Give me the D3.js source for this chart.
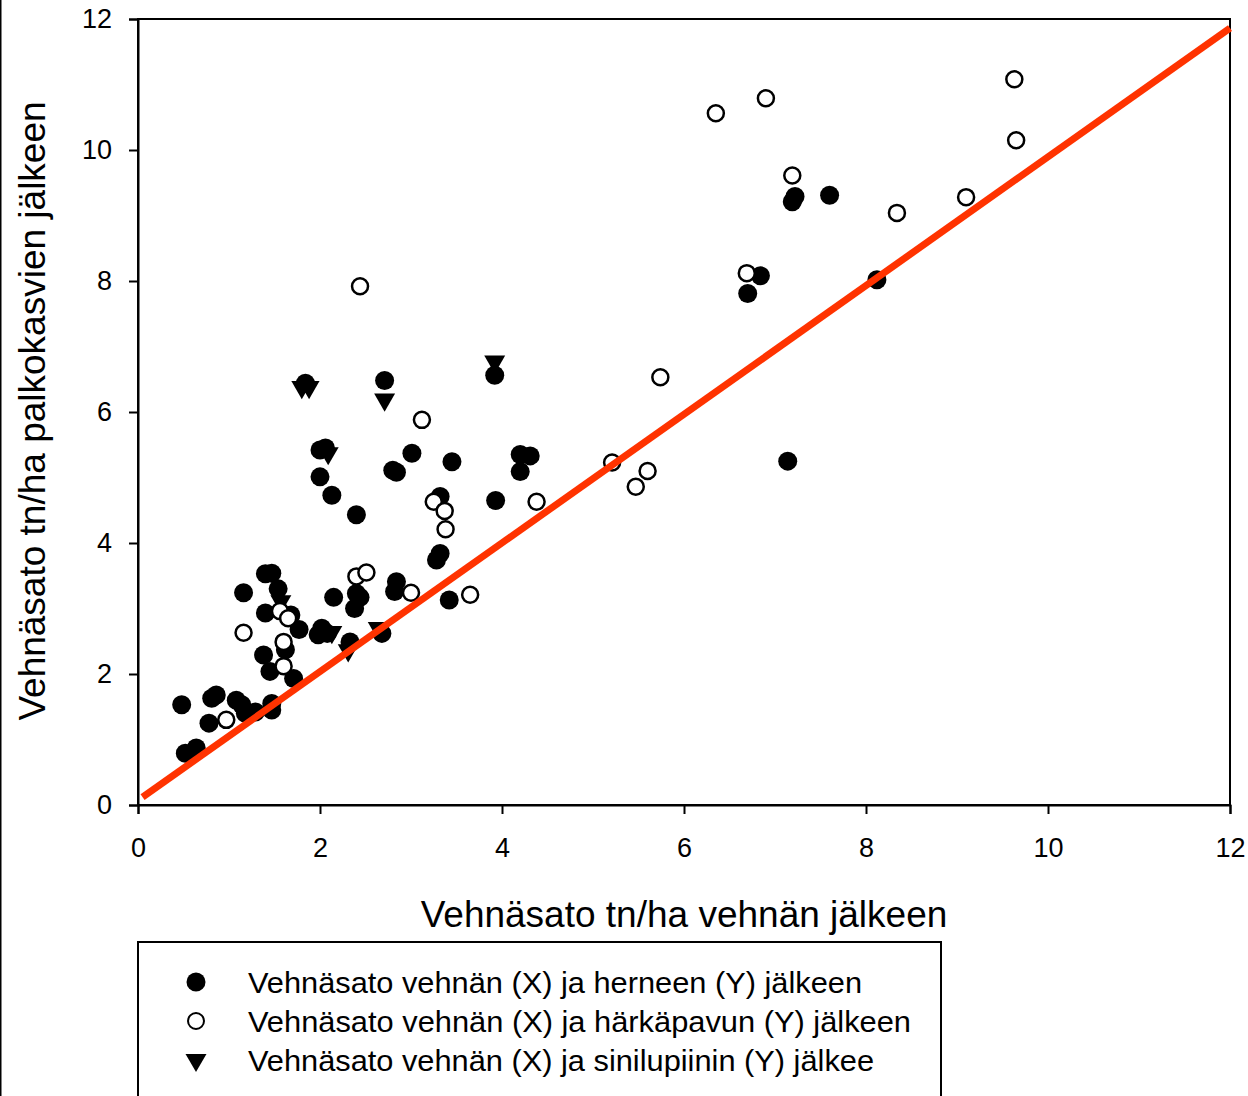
<!DOCTYPE html>
<html>
<head>
<meta charset="utf-8">
<script src="https://cdn.jsdelivr.net/npm/d3@7"></script>
<style>
  body { margin: 0; background: #fff; }
  svg { display: block; }
  text { font-family: "Liberation Sans", Arial, sans-serif; fill: #000; }
</style>
</head>
<body>
<div id="chart"></div>
<script>
// herne (filled circles): [x, y]
const herne = [
  [0.48, 1.53], [0.52, 0.79], [0.64, 0.87], [0.78, 1.25], [0.81, 1.63], [0.86, 1.68],
  [1.08, 1.60], [1.14, 1.53], [1.18, 1.40], [1.29, 1.42], [1.47, 1.55], [1.47, 1.45],
  [1.16, 3.24], [1.40, 3.53], [1.47, 3.54], [1.54, 3.30], [1.40, 2.93], [1.38, 2.29],
  [1.45, 2.04], [1.62, 2.37], [1.71, 1.93], [1.77, 2.68], [1.68, 2.90], [2.02, 2.70],
  [1.98, 2.60], [2.08, 2.62], [2.15, 3.17], [2.40, 3.23], [2.44, 3.17], [2.38, 3.00],
  [2.84, 3.41], [2.82, 3.26], [3.42, 3.13], [3.28, 3.74], [3.32, 3.84], [2.33, 2.49],
  [2.68, 2.62], [2.13, 4.73], [2.40, 4.43], [2.00, 5.01], [2.00, 5.42], [2.06, 5.45],
  [1.84, 6.44], [2.71, 6.48], [2.80, 5.11], [2.84, 5.08], [3.01, 5.37], [3.45, 5.24],
  [3.32, 4.71], [3.93, 4.65], [4.20, 5.35], [4.31, 5.33], [4.20, 5.09], [3.92, 6.56],
  [7.14, 5.25], [6.70, 7.81], [6.84, 8.08], [8.12, 8.02], [7.19, 9.21], [7.22, 9.29],
  [7.60, 9.31]
]
// härkäpapu (open circles)
const harkapapu = [
  [0.97, 1.30], [1.16, 2.63], [1.60, 2.49], [1.60, 2.12], [1.56, 2.96], [1.65, 2.85],
  [2.40, 3.49], [2.51, 3.55], [3.00, 3.24], [3.65, 3.21], [3.25, 4.63], [3.37, 4.49],
  [3.38, 4.21], [4.38, 4.63], [3.12, 5.88], [2.44, 7.92], [5.21, 5.23], [5.47, 4.86],
  [5.60, 5.10], [5.74, 6.53], [6.35, 10.56], [6.90, 10.79], [6.69, 8.12], [7.19, 9.61],
  [8.34, 9.04], [9.10, 9.28], [9.63, 11.08], [9.65, 10.15]
]
// sinilupiini (triangles)
const sinilupiini = [
  [1.57, 3.11], [1.80, 6.38], [1.88, 6.38], [2.09, 5.37], [2.13, 2.64], [2.31, 2.36],
  [2.64, 2.70], [2.71, 6.19], [3.92, 6.77]
]
// fitted line end points
const fitLine = [[0.05, 0.12], [12, 11.86]]

const xTicks = [0, 2, 4, 6, 8, 10, 12]
const yTicks = [0, 2, 4, 6, 8, 10, 12]
const legendLabels = [
  'Vehnäsato vehnän (X) ja herneen (Y) jälkeen',
  'Vehnäsato vehnän (X) ja härkäpavun (Y) jälkeen',
  'Vehnäsato vehnän (X) ja sinilupiinin (Y) jälkee'
]
const legendWidths = [614, 663, 626]

const W = 1248, H = 1096
const margin = { top: 19, left: 138, right: 18, bottom: 291 }
const w = W - margin.left - margin.right,
  h = H - margin.top - margin.bottom

const svg = d3.select('#chart').append('svg')
  .attr('width', W).attr('height', H)

// image border on the left
svg.append('line')
  .attr('x1', 0.75).attr('x2', 0.75).attr('y1', 0).attr('y2', H)
  .attr('stroke', '#000').attr('stroke-width', 1.5)

const g = svg.append('g')
  .attr('transform', 'translate(' + margin.left + ',' + margin.top + ')')

const x = d3.scaleLinear().domain([0, 12]).range([0, w])
const y = d3.scaleLinear().domain([0, 12]).range([h, 0])

// frame
g.append('rect')
  .attr('x', 0).attr('y', 0).attr('width', w).attr('height', h)
  .attr('fill', 'none').attr('stroke', '#000').attr('stroke-width', 2)

const xAxis = g.append('g')
  .attr('transform', 'translate(0,' + h + ')')
  .call(d3.axisBottom(x).tickValues(xTicks).tickSize(9).tickPadding(24).tickFormat(d3.format('d')))
const yAxis = g.append('g')
  .call(d3.axisLeft(y).tickValues(yTicks).tickSize(9).tickPadding(17).tickFormat(d3.format('d')))

;[xAxis, yAxis].forEach(a => {
  a.select('.domain').attr('stroke-width', 2)
  a.selectAll('.tick line').attr('stroke-width', 2)
  a.selectAll('.tick text')
    .style('font-family', '"Liberation Sans", Arial, sans-serif')
    .style('font-size', '27px')
})

// axis titles
svg.append('text')
  .attr('x', 684).attr('y', 927)
  .attr('text-anchor', 'middle')
  .style('font-size', '37px')
  .text('Vehnäsato tn/ha vehnän jälkeen')
svg.append('text')
  .attr('transform', 'translate(45,' + 411 + ') rotate(-90)')
  .attr('text-anchor', 'middle')
  .style('font-size', '37px')
  .text('Vehnäsato tn/ha palkokasvien jälkeen')

const tri = d3.symbol().type(d3.symbolTriangle).size(190)

// points
g.selectAll('circle.herne').data(herne).enter()
  .append('circle').attr('class', 'herne')
  .attr('cx', d => x(d[0])).attr('cy', d => y(d[1]))
  .attr('r', 9.5).attr('fill', '#000')

g.selectAll('path.lupiini').data(sinilupiini).enter()
  .append('path').attr('class', 'lupiini')
  .attr('d', tri)
  .attr('transform', d => 'translate(' + x(d[0]) + ',' + y(d[1]) + ') rotate(180)')
  .attr('fill', '#000')

g.selectAll('circle.papu').data(harkapapu).enter()
  .append('circle').attr('class', 'papu')
  .attr('cx', d => x(d[0])).attr('cy', d => y(d[1]))
  .attr('r', 8).attr('fill', '#fff').attr('stroke', '#000').attr('stroke-width', 2.5)

// fit line
g.append('path')
  .datum(fitLine)
  .attr('d', d3.line().x(d => x(d[0])).y(d => y(d[1])))
  .attr('stroke', '#ff3300').attr('stroke-width', 7).attr('fill', 'none')

// legend
const lg = svg.append('g')
lg.append('path')
  .attr('d', 'M138,' + (H + 5) + 'V942H941V' + (H + 5))
  .attr('fill', 'none').attr('stroke', '#000').attr('stroke-width', 2)

const legendY = [982, 1021, 1060]
legendLabels.forEach((t, i) => {
  const cy = legendY[i]
  if (i === 0) {
    lg.append('circle').attr('cx', 196).attr('cy', cy).attr('r', 9.5).attr('fill', '#000')
  } else if (i === 1) {
    lg.append('circle').attr('cx', 196).attr('cy', cy).attr('r', 8)
      .attr('fill', '#fff').attr('stroke', '#000').attr('stroke-width', 2)
  } else {
    lg.append('path').attr('d', tri)
      .attr('transform', 'translate(196,' + cy + ') rotate(180)').attr('fill', '#000')
  }
  lg.append('text')
    .attr('x', 248).attr('y', cy + 11)
    .attr('textLength', legendWidths[i])
    .attr('lengthAdjust', 'spacingAndGlyphs')
    .style('font-size', '29px')
    .text(t)
})
</script>
</body>
</html>
